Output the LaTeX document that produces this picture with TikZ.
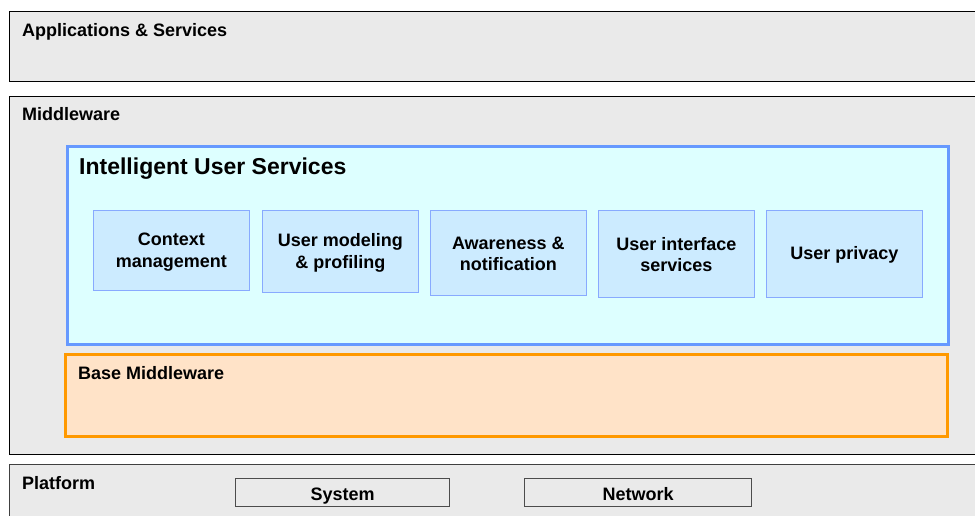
\documentclass[tikz,border=0pt]{standalone}
\usepackage{fontspec}
\setmainfont{Liberation Sans}
\usetikzlibrary{calc}
\definecolor{laygray}{HTML}{EAEAEA}
\definecolor{iusfill}{HTML}{DDFFFF}
\definecolor{iusdraw}{HTML}{6699FF}
\definecolor{modfill}{HTML}{CCEBFF}
\definecolor{moddraw}{HTML}{88AAFF}
\definecolor{basefill}{HTML}{FFE3C8}
\definecolor{basedraw}{HTML}{FF9900}
\begin{document}
\begin{tikzpicture}[x=1pt,y=-1pt,
  layer/.style={draw=black, line width=1pt, fill=laygray, anchor=north west, inner sep=0pt},
  ius/.style={draw=iusdraw, line width=2.5pt, fill=iusfill, anchor=north west, inner sep=0pt},
  base/.style={draw=basedraw, line width=2.5pt, fill=basefill, anchor=north west, inner sep=0pt},
  module/.style={draw=moddraw, line width=0.8pt, fill=modfill, anchor=north west, inner sep=0pt, minimum width=156pt},
  modtext/.style={font=\fontsize{18}{21.5}\selectfont\bfseries, align=center, inner sep=0pt},
  plat/.style={draw=black!70, line width=1.2pt, fill=laygray, anchor=north west, inner sep=0pt, minimum height=28pt},
  label/.style={font=\fontsize{18}{21.5}\selectfont\bfseries, anchor=base west, inner sep=0pt},
  biglabel/.style={font=\fontsize{23}{27}\selectfont\bfseries, anchor=base west, inner sep=0pt}
]
\useasboundingbox (0,0) rectangle (975,515);
\clip (0,0) rectangle (975,515);
\fill[white] (0,0) rectangle (975,515);
% outer layers
\node[layer, minimum width=990pt, minimum height=70pt] (apps) at (9,11) {};
\node[layer, minimum width=990pt, minimum height=358pt] (mw) at (9,96) {};
\node[layer, draw=black!75, minimum width=990pt, minimum height=70pt] (platform) at (9,464) {};
% intelligent user services
\node[ius, minimum width=881pt, minimum height=198pt] (iusbox) at (66,145) {};
\node[base, minimum width=882pt, minimum height=82pt] (basebox) at (64,353) {};
% modules
\node[module, minimum height=80pt] (m1) at (93,210) {};
\node[module, minimum height=82pt] (m2) at (262,210) {};
\node[module, minimum height=85pt] (m3) at (430,210) {};
\node[module, minimum height=87pt] (m4) at (598,210) {};
\node[module, minimum height=87pt] (m5) at (766,210) {};
\node[modtext] (t1) at ($(m1.center)+(0,1.5)$) {Context\\management};
\node[modtext] (t2) at ($(m2.center)+(0,1.5)$) {User modeling\\\& profiling};
\node[modtext] (t3) at ($(m3.center)+(0,1)$) {Awareness \&\\notification};
\node[modtext] (t4) at ($(m4.center)+(0,0.5)$) {User interface\\services};
\node[modtext] (t5) at ($(m5.center)+(0,1)$) {User privacy};
% platform boxes
\node[plat, minimum width=214pt] (sys) at (235,478) {};
\node[plat, minimum width=227pt] (net) at (524,478) {};
\node[font=\fontsize{18}{21.5}\selectfont\bfseries, anchor=base, inner sep=0pt] (systext) at ($(sys.south)+(0,-7)$) {System};
\node[font=\fontsize{18}{21.5}\selectfont\bfseries, anchor=base, inner sep=0pt] (nettext) at ($(net.south)+(0,-7)$) {Network};
% labels
\node[label] (appslabel) at (22,36) {Applications \& Services};
\node[label] (mwlabel) at (22,120) {Middleware};
\node[biglabel] (iuslabel) at (79,174) {Intelligent User Services};
\node[label] (baselabel) at (78,379) {Base Middleware};
\node[label] (platlabel) at (22,489) {Platform};
\end{tikzpicture}
\end{document}
